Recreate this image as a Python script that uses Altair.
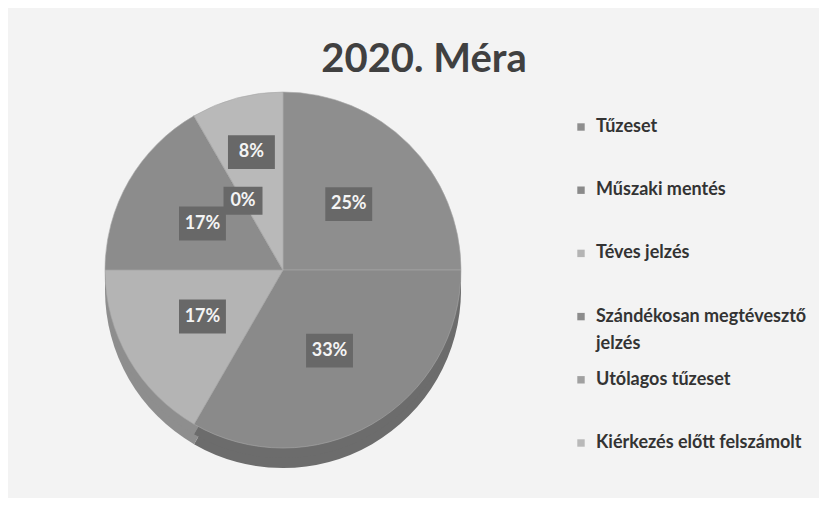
import altair as alt
import pandas as pd

categories = ["Tűzeset", "Műszaki mentés", "Téves jelzés",
              "Szándékosan megtévesztő jelzés", "Utólagos tűzeset",
              "Kiérkezés előtt felszámolt"]
counts = [3, 4, 2, 2, 0, 1]
legend_labels = ["Tűzeset", "Műszaki mentés", "Téves jelzés",
                 "Szándékosan megtévesztő\njelzés", "Utólagos tűzeset",
                 "Kiérkezés előtt felszámolt"]
top_colors = ["#8e8e8e", "#8a8a8a", "#b4b4b4", "#8c8c8c", "#a0a0a0", "#b9b9b9"]
side_colors = ["#6f6f6f", "#6c6c6c", "#8e8e8e", "#6e6e6e", "#7d7d7d", "#929292"]

df = pd.DataFrame({
    "cat": categories,
    "count": counts,
    "idx": list(range(len(categories))),
    "leg": legend_labels,
})

CX, CY, R, DEPTH = 275, 262, 178, 20

base = alt.Chart(df)

color_top = alt.Color("cat:N", scale=alt.Scale(domain=categories, range=top_colors), legend=None)
color_side = alt.Color("cat:N", scale=alt.Scale(domain=categories, range=side_colors), legend=None)

side = base.mark_arc(radius=R).encode(
    theta=alt.Theta("count:Q", stack=True),
    order=alt.Order("idx:Q"),
    color=color_side,
    x=alt.value(CX), y=alt.value(CY + DEPTH),
)
side_fill = base.mark_arc(radius=R).encode(
    theta=alt.Theta("count:Q", stack=True),
    order=alt.Order("idx:Q"),
    color=color_side,
    x=alt.value(CX), y=alt.value(CY + DEPTH / 2),
)
top = base.mark_arc(radius=R, stroke="#a8a8a8", strokeWidth=0.6).encode(
    theta=alt.Theta("count:Q", stack=True),
    order=alt.Order("idx:Q"),
    color=color_top,
    x=alt.value(CX), y=alt.value(CY),
)

lab = base.transform_joinaggregate(total="sum(count)").transform_window(
    cum="sum(count)", sort=[alt.SortField("idx")]
).transform_calculate(
    mid="(datum.cum - datum.count/2) / datum.total * 2 * PI",
    lr="datum.count == 0 ? 80 : (datum.count / datum.total < 0.1 ? 122 : 93)",
    px=f"{CX} + datum.lr * sin(datum.mid)",
    py=f"{CY} - datum.lr * cos(datum.mid)",
    pct="round(datum.count / datum.total * 100) + '%'",
    bs="datum.count == 0 ? 1520 : 2200",
)

boxes = lab.mark_point(
    shape="M-1,-0.72L1,-0.72L1,0.72L-1,0.72Z", filled=True, opacity=1,
    color="#686868",
).encode(
    x=alt.X("px:Q", scale=None, axis=None),
    y=alt.Y("py:Q", scale=None, axis=None),
    size=alt.Size("bs:Q", scale=None, legend=None),
)
texts = lab.mark_text(
    font="Lato", fontWeight="bold", fontSize=18, color="#f4f4f4",
    align="center", baseline="middle",
).encode(
    x=alt.X("px:Q", scale=None, axis=None),
    y=alt.Y("py:Q", scale=None, axis=None),
    text="pct:N",
)

title = alt.Chart(pd.DataFrame({"t": ["2020. Méra"]})).mark_text(
    font="Lato", fontWeight="bold", fontSize=40, color="#404040",
    align="center", baseline="alphabetic",
).encode(text="t:N", x=alt.value(416), y=alt.value(64))

leg_y = alt.Y("cat:N", sort=categories, axis=None,
              scale=alt.Scale(range=[119, 435], padding=0))
leg_sym = base.mark_point(shape="square", filled=True, opacity=1, size=55).encode(
    x=alt.value(573), y=leg_y, color=color_top,
)
leg_txt = base.mark_text(
    font="Lato", fontWeight="bold", fontSize=18, color="#333333",
    align="left", baseline="middle", lineBreak="\n", lineHeight=27,
).encode(
    x=alt.value(588), y=leg_y, text="leg:N",
)

chart = alt.layer(
    side, side_fill, top, boxes, texts, title, leg_sym, leg_txt
).resolve_scale(y="independent", x="independent", color="independent").properties(
    width=811, height=490, padding=0, background="#f3f3f3",
    autosize=alt.AutoSizeParams(type="none"),
).configure_view(stroke=None)

chart.save("out.html", embed_options={"renderer": "svg", "actions": False})
